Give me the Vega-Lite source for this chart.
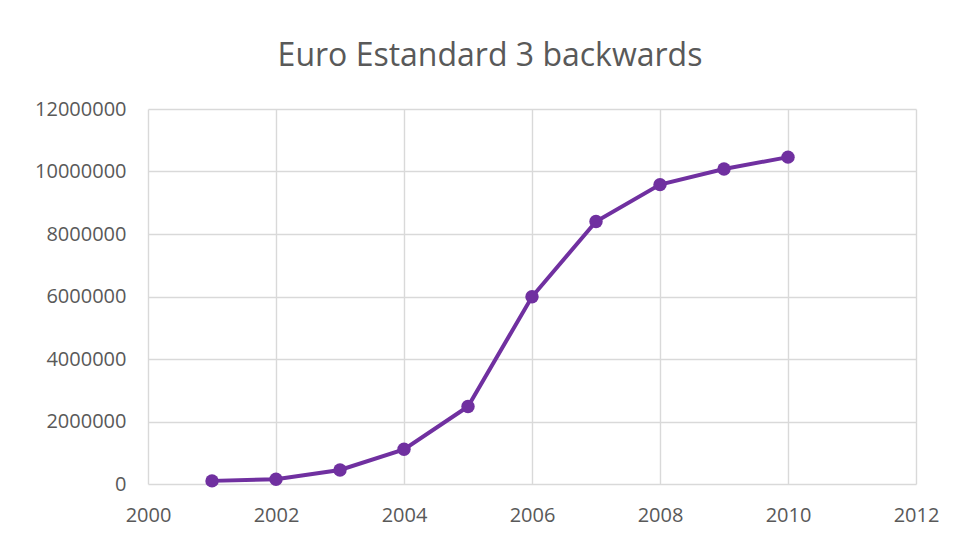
{
  "$schema": "https://vega.github.io/schema/vega-lite/v6.json",
  "width": 768,
  "height": 375,
  "autosize": {"type": "none"},
  "padding": {"left": 148, "top": 109, "right": 42, "bottom": 53},
  "background": "white",
  "title": {
    "text": "Euro Estandard 3 backwards",
    "anchor": "middle",
    "frame": "group",
    "dx": -42,
    "offset": 26,
    "font": "Open Sans",
    "fontSize": 32,
    "fontWeight": "normal",
    "color": "#595959"
  },
  "data": {
    "values": [
      {"year": 2001, "value": 100000},
      {"year": 2002, "value": 150000},
      {"year": 2003, "value": 450000},
      {"year": 2004, "value": 1110000},
      {"year": 2005, "value": 2480000},
      {"year": 2006, "value": 5990000},
      {"year": 2007, "value": 8400000},
      {"year": 2008, "value": 9580000},
      {"year": 2009, "value": 10080000},
      {"year": 2010, "value": 10460000}
    ]
  },
  "config": {
    "view": {"stroke": null},
    "axis": {
      "labelFont": "Open Sans",
      "labelFontSize": 20,
      "labelColor": "#595959",
      "gridColor": "#d9d9d9",
      "gridWidth": 1.4,
      "ticks": false,
      "title": null,
      "labelFlush": false,
      "labelBound": false,
      "labelOverlap": false
    }
  },
  "mark": {
    "type": "line",
    "color": "#7030a0",
    "strokeWidth": 4,
    "point": {"filled": true, "size": 180, "color": "#7030a0", "opacity": 1}
  },
  "encoding": {
    "x": {
      "field": "year",
      "type": "quantitative",
      "scale": {"domain": [2000, 2012], "nice": false, "zero": false},
      "axis": {
        "values": [2000, 2002, 2004, 2006, 2008, 2010, 2012],
        "format": "d",
        "labelPadding": 21,
        "domain": false,
        "grid": true
      }
    },
    "y": {
      "field": "value",
      "type": "quantitative",
      "scale": {"domain": [0, 12000000], "nice": false},
      "axis": {
        "values": [0, 2000000, 4000000, 6000000, 8000000, 10000000, 12000000],
        "format": "d",
        "labelPadding": 22,
        "domain": false,
        "grid": true
      }
    }
  }
}
